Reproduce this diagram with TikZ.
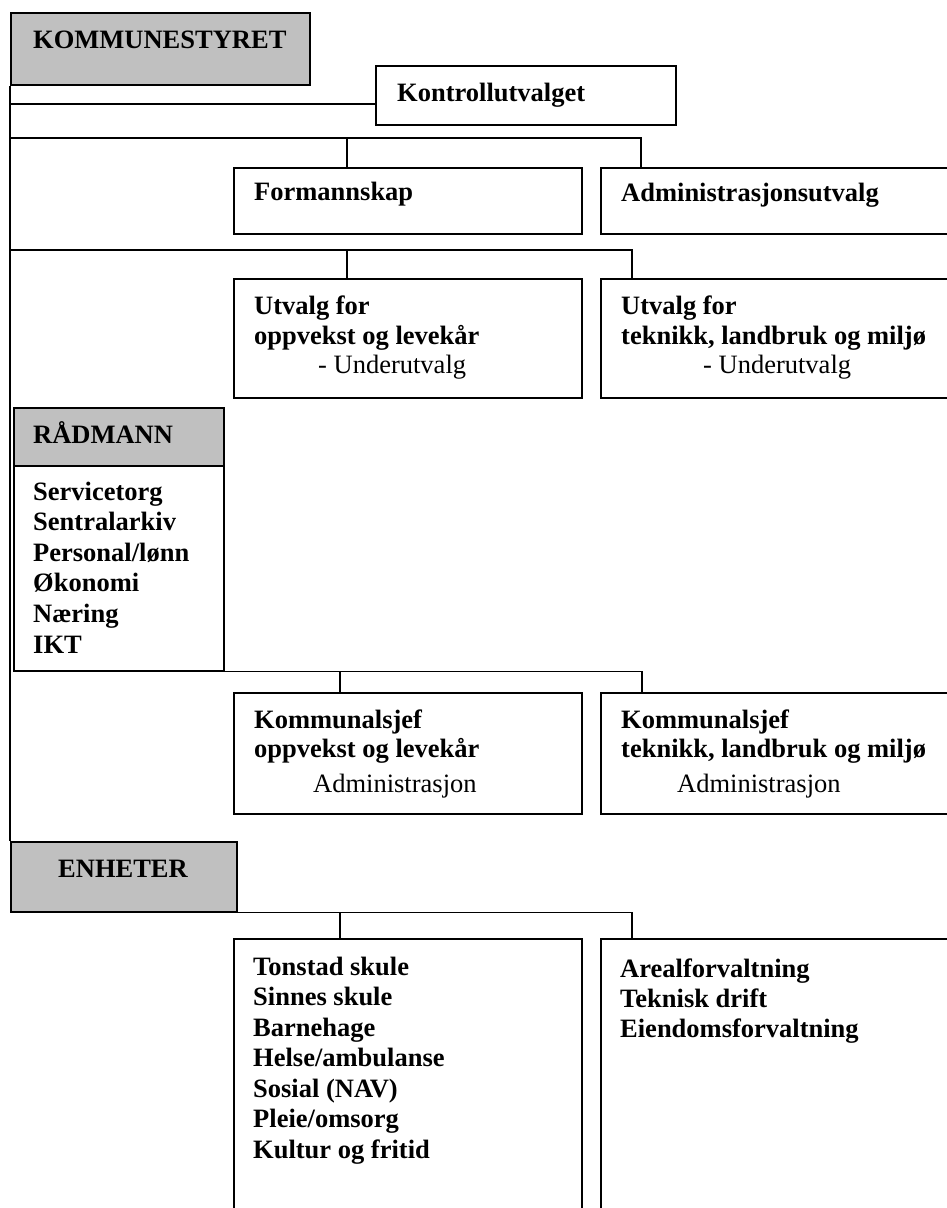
\documentclass[tikz,border=0pt]{standalone}
\usepackage{fontspec}
\setmainfont{Liberation Serif}
\usetikzlibrary{positioning}

\definecolor{headgray}{HTML}{C0C0C0}

\tikzset{
  unit/.style = {draw=black, line width=1.5pt, rectangle, inner sep=0pt, anchor=north west},
  head/.style = {unit, fill=headgray},
  lbl/.style  = {inner sep=0pt, anchor=base west, font=\fontsize{26.5}{30.5}\selectfont\bfseries},
  plain/.style = {inner sep=0pt, anchor=base west, font=\fontsize{26.5}{30.5}\selectfont},
  link/.style = {line width=1.5pt},
}

\begin{document}
\begin{tikzpicture}[x=1pt, y=-1pt]

    \useasboundingbox (0,0) rectangle (946,1208);

    % boxes
    \node[head, minimum width=299pt, minimum height=72pt]  (kstyret)  at (10,12)   {};
    \node[unit, minimum width=300pt, minimum height=59pt]  (kontroll) at (375,65)  {};
    \node[unit, minimum width=348pt, minimum height=66pt]  (formann)  at (233,167) {};
    \node[unit, minimum width=350pt, minimum height=66pt]  (admin)    at (600,167) {};
    \node[unit, minimum width=348pt, minimum height=119pt] (utvolk)   at (233,278) {};
    \node[unit, minimum width=350pt, minimum height=119pt] (utvtlm)   at (600,278) {};
    \node[head, minimum width=210pt, minimum height=58pt]  (radmann)  at (13,407)  {};
    \node[unit, minimum width=210pt, minimum height=205pt] (radliste) at (13,465)  {};
    \node[unit, minimum width=348pt, minimum height=121pt] (ksjefolk) at (233,692) {};
    \node[unit, minimum width=350pt, minimum height=121pt] (ksjeftlm) at (600,692) {};
    \node[head, minimum width=226pt, minimum height=70pt]  (enheter)  at (10,841)  {};
    \node[unit, minimum width=348pt, minimum height=290pt] (enhetolk) at (233,938) {};
    \node[unit, minimum width=350pt, minimum height=290pt] (enhettlm) at (600,938) {};

    % texts
    \node[lbl] (kstyretT)  at (33,48)   {KOMMUNESTYRET};
    \node[lbl] (kontrollT) at (397,101) {Kontrollutvalget};
    \node[lbl] (formannT)  at (254,200) {Formannskap};
    \node[lbl] (adminT)    at (621,201) {Administrasjonsutvalg};

    \node[lbl]   (utvolkA) at (254,314) {Utvalg for};
    \node[lbl]   (utvolkB) at (254,344) {oppvekst og levekår};
    \node[plain] (utvolkC) at (318,373) {- Underutvalg};
    \node[lbl]   (utvtlmA) at (621,314) {Utvalg for};
    \node[lbl]   (utvtlmB) at (621,344) {teknikk, landbruk og miljø};
    \node[plain] (utvtlmC) at (703,373) {- Underutvalg};

    \node[lbl] (radmannT) at (33,443) {RÅDMANN};
    \foreach \txt [count=\i from 0] in {Servicetorg, Sentralarkiv, Personal/lønn, Økonomi, Næring, IKT}
        \node[lbl] (rad\i) at (33,500+30.6*\i) {\txt};

    \node[lbl]   (ksjefolkA) at (254,728) {Kommunalsjef};
    \node[lbl]   (ksjefolkB) at (254,757) {oppvekst og levekår};
    \node[plain] (ksjefolkC) at (313,792) {Administrasjon};
    \node[lbl]   (ksjeftlmA) at (621,728) {Kommunalsjef};
    \node[lbl]   (ksjeftlmB) at (621,757) {teknikk, landbruk og miljø};
    \node[plain] (ksjeftlmC) at (677,792) {Administrasjon};

    \node[lbl] (enheterT) at (58,877) {ENHETER};
    \foreach \txt [count=\i from 0] in {Tonstad skule, Sinnes skule, Barnehage, Helse/ambulanse, Sosial (NAV), Pleie/omsorg, Kultur og fritid}
        \node[lbl] (olk\i) at (253,975+30.5*\i) {\txt};
    \foreach \txt [count=\i from 0] in {Arealforvaltning, Teknisk drift, Eiendomsforvaltning}
        \node[lbl] (tlm\i) at (620,977+30*\i) {\txt};

    % connectors
    \coordinate (b1) at (10,138);
    \coordinate (b2) at (10,250);

    \draw[link] (kstyret.south west) -- (enheter.north west);
    \draw[link] ([yshift=-8.5pt]kontroll.west) -- ([yshift=-8.5pt]kontroll.west -| kstyret.west);

    \draw[link] (b1) -| ([xshift=41pt]admin.north west);
    \draw[link] ([xshift=114pt]formann.north west) -- ([xshift=114pt]formann.north west |- b1);

    \draw[link] (b2) -| ([xshift=32pt]utvtlm.north west);
    \draw[link] ([xshift=114pt]utvolk.north west) -- ([xshift=114pt]utvolk.north west |- b2);

    \draw[link] (radliste.south east) -| ([xshift=42pt]ksjeftlm.north west);
    \draw[link] ([xshift=107pt]ksjefolk.north west) -- ([xshift=107pt]ksjefolk.north west |- radliste.south);

    \draw[link] (enheter.south east) -| ([xshift=32pt]enhettlm.north west);
    \draw[link] ([xshift=107pt]enhetolk.north west) -- ([xshift=107pt]enhetolk.north west |- enheter.south);

\end{tikzpicture}
\end{document}
